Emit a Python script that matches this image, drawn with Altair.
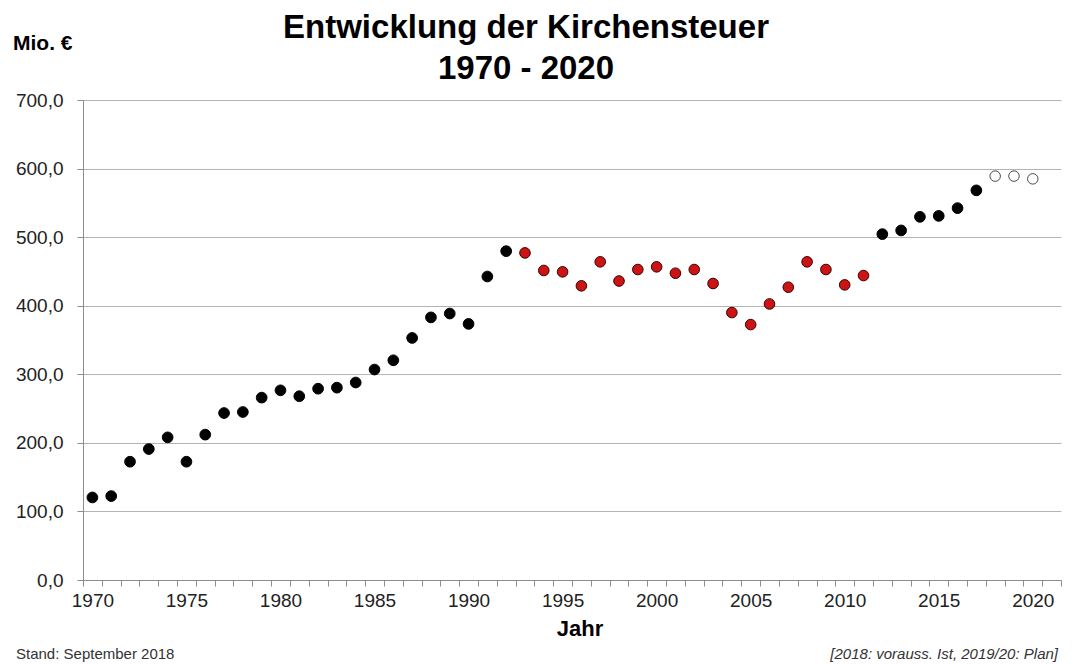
import altair as alt
import pandas as pd

years = list(range(1970, 2021))
values = [
    120.4, 122.4, 172.5, 191.0, 208.0, 172.5, 212.0, 243.5, 245.0, 266.0,
    276.6, 268.0, 279.0, 280.5, 288.0, 306.9, 320.4, 353.0, 383.0, 388.6,
    373.5, 442.6, 479.6,
    477.0, 451.4, 449.4, 429.0, 464.0, 436.0, 452.8, 456.7, 447.4, 452.8,
    432.4, 390.0, 372.5, 402.6, 427.0, 464.0, 452.8, 430.4, 444.0,
    504.4, 509.8, 529.6, 531.0, 542.3, 568.2,
    589.0, 589.0, 585.0,
]
status = (["Ist"] * 23) + (["Phase"] * 19) + (["Ist"] * 6) + (["Plan"] * 3)

status_domain = ["Ist", "Phase", "Plan"]
fill_range = ["#000000", "#cc1414", "#ffffff"]
stroke_range = ["#000000", "#3a0000", "#4a4a4a"]
size_range = [115, 110, 80]
stroke_width_range = [1.0, 1.0, 1.5]

y_ticks = [0, 100, 200, 300, 400, 500, 600, 700]
x_ticks = [1969.5 + i for i in range(53)]

df = pd.DataFrame({"Jahr": years, "Wert": values, "Status": status})

FONT = "Liberation Sans"

points = alt.Chart(df).mark_point(filled=True, opacity=1).encode(
    x=alt.X(
        "Jahr:Q",
        scale=alt.Scale(domain=[1969.5, 2021.5], nice=False, zero=False),
        axis=alt.Axis(
            values=x_ticks,
            labelExpr="(datum.value + 0.5) % 5 == 0 ? toString(datum.value + 0.5) : ''",
            labelOffset=9.4,
            tickSize=6,
            tickColor="#8c8c8c",
            domainColor="#8c8c8c",
            labelFontSize=19,
            labelFont=FONT,
            labelColor="#222222",
            labelPadding=5,
            labelOverlap=False,
            labelFlush=False,
            grid=False,
            title=None,
        ),
    ),
    y=alt.Y(
        "Wert:Q",
        scale=alt.Scale(domain=[0, 700], nice=False),
        axis=alt.Axis(
            values=y_ticks,
            labelExpr="replace(format(datum.value, '.1f'), '.', ',')",
            tickSize=6,
            tickColor="#8c8c8c",
            domainColor="#8c8c8c",
            gridColor="#b4b4b4",
            gridWidth=1.2,
            labelFontSize=19,
            labelFont=FONT,
            labelColor="#222222",
            labelPadding=14,
            grid=True,
            title=None,
        ),
    ),
    fill=alt.Fill("Status:N", scale=alt.Scale(domain=status_domain, range=fill_range), legend=None),
    stroke=alt.Stroke("Status:N", scale=alt.Scale(domain=status_domain, range=stroke_range), legend=None),
    size=alt.Size("Status:N", scale=alt.Scale(domain=status_domain, range=size_range), legend=None),
    strokeWidth=alt.StrokeWidth("Status:N", scale=alt.Scale(domain=status_domain, range=stroke_width_range), legend=None),
    shape=alt.value("circle"),
)


def label(text, x, y, size, bold=False, italic=False, align="left", color="#000000", line_height=None):
    kw = dict(
        font=FONT,
        fontSize=size,
        fontWeight="bold" if bold else "normal",
        fontStyle="italic" if italic else "normal",
        align=align,
        baseline="alphabetic",
        color=color,
    )
    if line_height is not None:
        kw["lineBreak"] = "\n"
        kw["lineHeight"] = line_height
    return alt.Chart(pd.DataFrame({"t": [text]})).mark_text(**kw).encode(
        text="t:N", x=alt.value(x), y=alt.value(y)
    )


title = label("Entwicklung der Kirchensteuer\n1970 - 2020", 443, -62, 33, bold=True,
              align="center", line_height=41)
unit = label("Mio. €", -70, -50, 21, bold=True)
xtitle = label("Jahr", 497, 536, 22, bold=True, align="center")
stand = label("Stand: September 2018", -67, 559, 15, color="#333333")
note = label("[2018: vorauss. Ist, 2019/20: Plan]", 975, 559, 15, italic=True,
             align="right", color="#333333")

chart = alt.layer(points, title, unit, xtitle, stand, note).properties(
    width=978,
    height=480,
    padding={"left": 75, "top": 92, "right": 7, "bottom": 84},
    autosize=alt.AutoSizeParams(type="none"),
    background="#ffffff",
).configure_view(stroke=None)

chart.save("out.html", embed_options={"renderer": "svg", "actions": False})
